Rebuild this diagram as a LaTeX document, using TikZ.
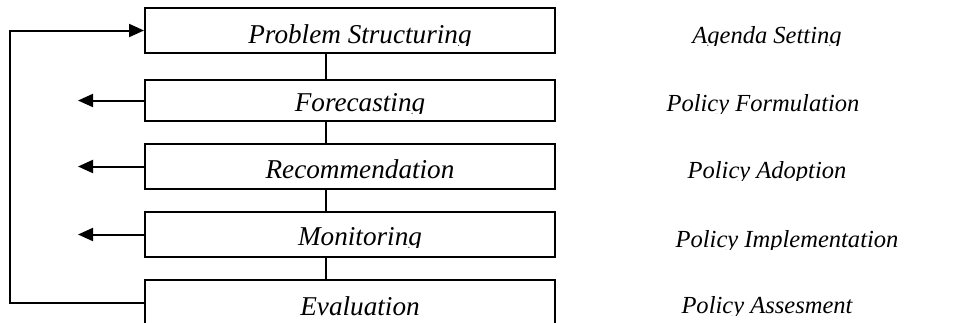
\documentclass[tikz,border=0pt]{standalone}
\usepackage{fontspec}
\setmainfont{Liberation Serif}
\usetikzlibrary{arrows.meta}
\newcommand\cliplabel[5]{%
  \begin{scope}
    \clip (#2-170,#3-40) rectangle (#2+170,#3+2.5);
    \node[#4,anchor=base] (#1) at (#2,#3) {#5};
  \end{scope}}
\begin{document}
\begin{tikzpicture}[x=0.75pt,y=-0.75pt,
  box/.style={draw,rectangle,line width=1.5pt,minimum width=410*0.75pt,inner sep=0pt},
  boxtext/.style={inner sep=0pt,font=\fontsize{20.4}{24}\selectfont\itshape},
  phasetext/.style={inner sep=0pt,font=\fontsize{18.4}{22}\selectfont\itshape},
  link/.style={line width=1.5pt},
  arr/.style={line width=1.5pt,-{Triangle[length=11.25pt,width=9.75pt]}}]
\clip (0,0) rectangle (961,322);
\useasboundingbox (0,0) rectangle (961,322);
% boxes
\node[box,minimum height=45*0.75pt] (b1) at (350,30.5) {};
\node[box,minimum height=41*0.75pt] (b2) at (350,100.5) {};
\node[box,minimum height=45*0.75pt] (b3) at (350,166.5) {};
\node[box,minimum height=45*0.75pt] (b4) at (350,234.5) {};
\node[box,minimum height=45*0.75pt] (b5) at (350,302.5) {};
% box texts
\cliplabel{t1}{360}{43}{boxtext}{Problem Structuring}
\cliplabel{t2}{360}{111}{boxtext}{Forecasting}
\cliplabel{t3}{360}{178}{boxtext}{Recommendation}
\cliplabel{t4}{360}{245}{boxtext}{Monitoring}
\cliplabel{t5}{360}{315}{boxtext}{Evaluation}
% phase labels
\cliplabel{p1}{767}{43}{phasetext}{Agenda Setting}
\cliplabel{p2}{763}{111}{phasetext}{Policy Formulation}
\cliplabel{p3}{767}{178}{phasetext}{Policy Adoption}
\cliplabel{p4}{787}{247}{phasetext}{Policy Implementation}
\cliplabel{p5}{767}{313}{phasetext}{Policy Assesment}
% vertical links
\coordinate (vx) at (326,0);
\draw[link] (b1.south -| vx) -- (b2.north -| vx);
\draw[link] (b2.south -| vx) -- (b3.north -| vx);
\draw[link] (b3.south -| vx) -- (b4.north -| vx);
\draw[link] (b4.south -| vx) -- (b5.north -| vx);
% feedback loop
\coordinate (fb) at (10,30.5);
\draw[arr] (b5.west) -| (fb) -- (b1.west);
% outgoing arrows
\coordinate (tipx) at (78,0);
\draw[arr] (b2.west) -- (b2.west -| tipx);
\draw[arr] (b3.west) -- (b3.west -| tipx);
\draw[arr] (b4.west) -- (b4.west -| tipx);
\end{tikzpicture}
\end{document}
